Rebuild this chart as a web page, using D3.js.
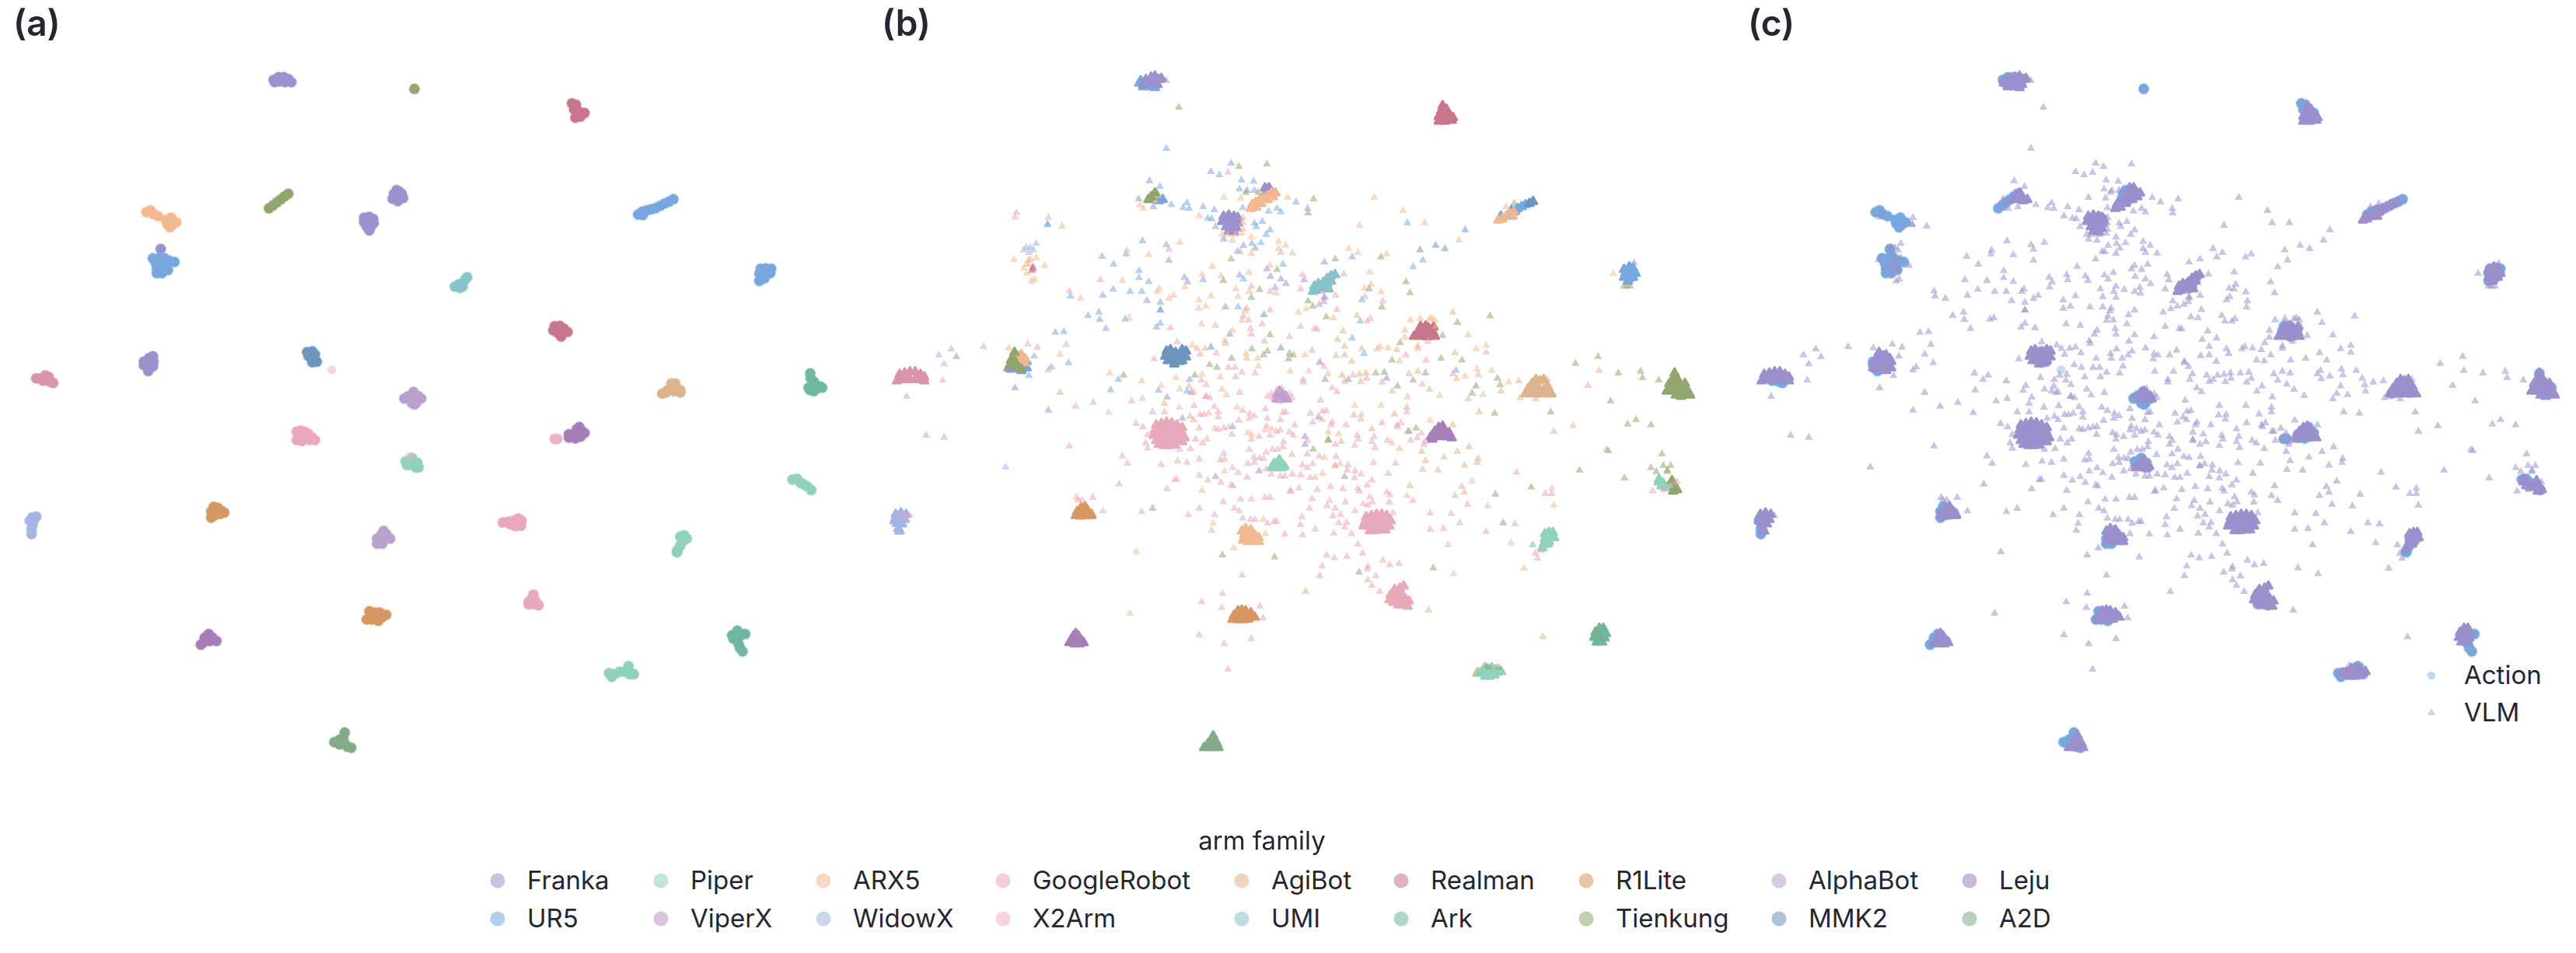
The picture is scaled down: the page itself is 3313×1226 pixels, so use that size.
<!DOCTYPE html>
<html>
<head>
<meta charset="utf-8">
<script src="https://cdn.jsdelivr.net/npm/d3@7"></script>
<style>
  html, body { margin: 0; background: #fff; }
  text { font-family: Inter, "Noto Sans", sans-serif; fill: #262631; }
</style>
</head>
<body>
<svg id="chart" width="3313" height="1226"></svg>
<script>
//Embedding coordinates (x 0-3300, y 0-3030)

//Action points, one array per arm family
var actionFranka = [[1056,308],[1075,298],[1095,298],[1112,305],[1124,317],[1100,317],[1078,314],[1060,317],[1535,755],[1520,748],[1550,748],[1515,767],[1535,776],[1555,764],[1530,734],[1540,739],[1405,840],[1425,837],[1440,845],[1405,858],[1425,858],[1442,861],[1415,874],[1430,877],[1425,889],[620,961],[555,1396],[575,1382],[590,1375],[592,1396],[575,1400],[555,1409],[575,1419],[590,1414],[572,1432]];
var actionTienkung = [[1599,343],[1038,804],[1053,793],[1068,781],[1083,770],[1098,758],[1112,748]];
var actionRealman = [[2207,399],[2222,404],[2215,422],[2235,431],[2255,436],[2240,450],[2220,454],[2228,441],[2140,1259],[2160,1258],[2175,1268],[2190,1281],[2170,1290],[2150,1284],[2135,1275],[2165,1299]];
var actionUR5 = [[2462,828],[2478,817],[2495,812],[2512,808],[2530,803],[2548,794],[2565,785],[2582,778],[2598,769],[2480,830],[590,997],[612,997],[635,997],[650,1005],[673,1011],[650,1017],[625,1014],[600,1014],[605,1037],[625,1037],[648,1042],[605,1054],[625,1054],[2935,1037],[2955,1036],[2975,1037],[2930,1056],[2950,1056],[2972,1054],[2935,1072],[2950,1074],[2930,1084]];
var actionARX5 = [[565,819],[580,812],[592,826],[610,834],[640,849],[660,840],[680,858],[665,868],[645,863],[655,877]];
var actionUMI = [[1755,1106],[1775,1111],[1770,1097],[1785,1093],[1795,1079],[1802,1070],[1785,1106]];
var actionMMK2 = [[1185,1359],[1205,1356],[1215,1368],[1190,1374],[1208,1382],[1222,1396],[1205,1398]];
var actionRose = [[140,1460],[158,1460],[175,1449],[188,1455],[178,1468],[195,1474],[205,1478],[165,1469]];
var actionAgiBot = [[2590,1480],[2605,1480],[2590,1497],[2610,1497],[2625,1506],[2600,1510],[2575,1506],[2555,1519],[2570,1515],[2625,1515]];
var actionArk = [[3126,1441],[3128,1460],[3140,1473],[3150,1487],[3165,1492],[3172,1496],[3150,1501],[3125,1505],[3120,1496],[3140,1510],[2825,2452],[2845,2434],[2860,2447],[2875,2447],[2850,2461],[2830,2465],[2845,2474],[2850,2487],[2855,2501],[2865,2514]];
var actionAlphaBot = [[1595,1513],[1575,1529],[1560,1538],[1580,1542],[1600,1533],[1625,1538],[1605,1556],[1590,1556],[1600,1561],[1615,1529],[1480,2049],[1490,2061],[1470,2066],[1455,2079],[1475,2084],[1495,2075],[1505,2079],[1455,2098],[1475,2098]];
var actionGoogleRobot = [[1145,1666],[1160,1662],[1175,1666],[1190,1675],[1205,1689],[1215,1698],[1195,1698],[1175,1689],[1155,1685],[1145,1698],[1165,1702],[1940,2017],[1960,2014],[1980,2010],[2000,2001],[2012,2010],[2010,2029],[1990,2031],[1970,2024],[2058,2295],[2052,2309],[2065,2318],[2040,2323],[2060,2332],[2078,2336],[2040,2332]];
var actionLeju = [[2195,1689],[2215,1676],[2225,1657],[2235,1648],[2245,1663],[2255,1671],[2240,1685],[2220,1692],[2195,1676],[805,2447],[790,2461],[820,2461],[835,2474],[810,2474],[785,2479],[775,2488]];
var actionPiper = [[1565,1781],[1585,1772],[1590,1768],[1610,1786],[1590,1795],[1570,1795],[1605,1804],[1615,1804],[3058,1851],[3075,1848],[3085,1860],[3100,1869],[3115,1878],[3130,1891],[3090,1864],[2640,2066],[2625,2071],[2650,2079],[2635,2088],[2625,2105],[2615,2122],[2612,2131],[2350,2598],[2370,2602],[2390,2593],[2410,2593],[2425,2584],[2425,2571],[2445,2602],[2430,2602],[2360,2612]];
var actionX2Arm = [[2140,1694],[2150,1694],[2612,2129]];
var actionWidowX = [[125,1997],[140,1994],[115,2010],[130,2010],[125,2029],[122,2042],[122,2061]];
var actionR1Lite = [[825,1956],[840,1960],[855,1972],[865,1978],[815,1974],[835,1978],[815,1998],[830,1988],[850,1983],[1425,2359],[1445,2364],[1465,2364],[1490,2373],[1475,2382],[1455,2387],[1435,2391],[1415,2391],[1460,2396]];
var actionA2D = [[1330,2827],[1325,2845],[1310,2855],[1290,2864],[1310,2873],[1330,2869],[1340,2882],[1355,2886]];
//single points that never pile up
var actionLoneX2Arm = [[1280,1427],[1580,1762]];

//VLM clusters, dense
var coreUR5 = [[1060,321],[1075,335],[1100,335],[1065,312],[1120,338],[2550,790],[2535,798],[2520,805],[2510,815],[2495,812],[2455,835],[1135,775],[1150,770],[1130,760],[2930,1040],[2950,1030],[2965,1035],[2935,1055],[2955,1055],[2975,1055],[2930,1070],[2950,1075],[2965,1070],[2945,1085],[600,1375],[625,1395],[625,1420],[605,1430],[565,1425]];
var coreFranka = [[1085,307],[1105,298],[1120,294],[1135,307],[1100,317],[1120,317],[1075,326],[1130,326],[1145,303],[1545,725],[1560,725],[1570,740],[1550,740],[1385,835],[1405,830],[1425,835],[1440,840],[1380,855],[1400,855],[1420,855],[1440,860],[1395,875],[1415,875],[1435,880],[1405,892],[1425,895],[565,1405],[555,1420],[570,1390]];
var coreRealman = [[2230,408],[2225,427],[2245,422],[2215,450],[2235,445],[2255,441],[2270,454],[2215,468],[2240,468],[2265,464],[2145,1260],[2165,1258],[2175,1265],[2195,1262],[2135,1280],[2155,1280],[2175,1282],[2195,1285],[2130,1295],[2150,1298],[2170,1300],[2200,1298],[2120,1298]];
var coreMMK2 = [[2579,778],[2565,785],[1165,1355],[1180,1350],[1200,1360],[1225,1350],[1240,1355],[1160,1375],[1180,1375],[1200,1375],[1220,1375],[1240,1378],[1170,1392],[1195,1392],[1215,1395],[1195,1405],[1225,1392]];
var coreARX5 = [[2505,820],[2490,825],[2475,835],[2460,845],[2445,850],[2500,835],[1570,745],[1555,755],[1540,765],[1525,770],[1510,780],[1495,790],[1490,805],[1530,785],[1510,800],[1555,770],[1575,760],[1585,745],[1110,770],[1125,750],[595,1375],[610,1380],[600,1395],[615,1400],[620,1385],[605,1370],[1475,2050],[1490,2045],[1465,2065],[1485,2070],[1505,2065],[1520,2075],[1460,2085],[1480,2090],[1500,2090],[1520,2090],[1470,2040],[1455,2050],[2364,2597]];
var coreUMI = [[1800,1065],[1815,1060],[1785,1075],[1800,1085],[1770,1090],[1785,1095],[1750,1095],[1735,1105],[1755,1110],[1775,1110],[1740,1120],[1790,1115],[1730,1125]];
var coreRose = [[135,1445],[155,1440],[175,1435],[195,1435],[215,1445],[230,1455],[135,1465],[155,1465],[175,1465],[195,1465],[215,1465],[230,1470],[125,1470]];
var coreAgiBot = [[2575,1480],[2590,1465],[2605,1470],[2620,1465],[2635,1490],[2560,1500],[2580,1500],[2600,1495],[2620,1505],[2640,1510],[2550,1520],[2570,1520],[2590,1520],[2610,1520],[2630,1520],[2650,1520]];
var coreAlphaBot = [[1590,1525],[1610,1520],[1625,1530],[1590,1540],[1610,1540],[1630,1540],[1600,1510]];
var coreGoogleRobot = [[1125,1640],[1145,1635],[1165,1630],[1185,1632],[1205,1640],[1225,1650],[1120,1660],[1140,1658],[1160,1655],[1180,1655],[1200,1660],[1225,1670],[1115,1680],[1135,1680],[1155,1680],[1175,1680],[1195,1680],[1215,1685],[1235,1690],[1125,1700],[1145,1700],[1165,1700],[1185,1700],[1205,1700],[1225,1705],[1135,1715],[1155,1720],[1175,1720],[1195,1718],[1935,1995],[1955,1990],[1975,1985],[1995,1985],[2015,1990],[1930,2015],[1950,2010],[1970,2010],[1990,2010],[2010,2012],[2030,2010],[1925,2030],[1945,2030],[1965,2030],[1985,2030],[2005,2030],[2025,2030],[1950,2048],[1970,2048],[1990,2045],[2010,2045],[2045,2275],[2065,2270],[2080,2262],[2030,2295],[2050,2295],[2070,2290],[2025,2315],[2045,2315],[2065,2315],[2085,2310],[2100,2320],[2060,2335],[2080,2335],[2095,2340],[2040,2325]];
var coreLeju = [[2215,1650],[2230,1645],[2200,1665],[2220,1665],[2240,1665],[2255,1670],[2185,1685],[2205,1685],[2225,1685],[2245,1685],[2265,1690],[2190,1695],[815,2445],[805,2455],[825,2455],[800,2470],[815,2470],[835,2470],[790,2480],[810,2485],[830,2485],[845,2480]];
var corePiper = [[1600,1775],[1590,1790],[1610,1790],[1570,1805],[1590,1805],[1610,1805],[1620,1800],[1580,1790],[3065,1860],[3080,1865],[3065,1850],[3090,1880],[3105,1880],[3075,1875],[2640,2055],[2655,2055],[2625,2060],[2640,2070],[2660,2075],[2625,2080],[2640,2090],[2620,2100],[2635,2100],[2615,2115],[2400,2580],[2420,2578],[2435,2585],[2380,2595],[2400,2598],[2420,2598],[2440,2595],[2395,2610],[2410,2610],[2430,2605],[2455,2592],[2370,2598]];
var coreWidowX = [[120,1985],[140,1980],[160,1985],[120,2000],[140,2005],[155,2005],[125,2020],[145,2022],[130,2040],[135,2050],[115,2010]];
var coreR1Lite = [[835,1960],[850,1955],[820,1975],[840,1975],[860,1970],[875,1985],[815,1990],[835,1992],[855,1990],[875,1990],[1440,2358],[1455,2355],[1470,2358],[1490,2365],[1425,2375],[1445,2375],[1465,2375],[1485,2378],[1505,2382],[1420,2390],[1440,2392],[1460,2392],[1480,2390]];
var coreArk = [[2835,2425],[2850,2425],[2820,2440],[2840,2445],[2860,2445],[2815,2460],[2835,2465],[2855,2462],[2825,2478],[2845,2478]];
var coreA2D = [[1345,2840],[1340,2855],[1325,2870],[1345,2870],[1360,2870],[1310,2885],[1330,2885],[1350,2885],[1365,2885]];
var coreTienkung = [[3125,1440],[3120,1460],[3140,1470],[3105,1480],[3125,1485],[3145,1490],[3165,1480],[3105,1505],[3125,1510],[3145,1510],[3165,1505],[3180,1515],[3095,1510],[3130,1525],[3150,1530],[3185,1525],[3170,1520],[1095,770],[1105,760],[1120,745],[578,1360],[565,1390],[580,1395],[595,1420],[580,1410],[560,1410],[605,1425],[3115,1855],[3125,1880],[3135,1890],[3120,1895]];

//VLM scatter, loose triangles
var looseUR5 = [[1164,573],[1414,630],[1336,663],[1369,675],[1454,695],[1501,700],[1446,730],[1476,735],[1504,735],[1183,790],[1244,783],[1229,802],[1252,805],[1306,798],[1349,810],[1459,802],[1324,842],[1339,845],[1354,875],[1559,815],[1591,805],[1606,818],[1664,780],[1504,862],[1511,875],[1534,855],[1564,888],[1549,905],[1529,937],[1494,940],[1386,923],[1439,970],[1072,930],[1164,945],[1174,1005],[916,990],[961,1020],[1009,980],[1059,1045],[1059,1072],[1096,1087],[1234,1070],[1306,1080],[1447,1062],[1462,1078],[1614,1020],[1584,1110],[959,1117],[1024,1125],[1069,1125],[919,1140],[794,1143],[1141,1167],[1141,1197],[1141,1197],[1441,1185],[904,1205],[862,1218],[907,1233],[1006,1232],[931,1268],[1141,1248],[1126,1263],[736,1283],[769,1280],[706,865],[706,868],[654,1375],[634,1450],[787,1400],[721,1417],[979,1465],[949,1505],[1254,1465],[1134,1507],[1244,1510],[1709,805],[1881,992],[1774,1012],[2094,860],[2154,1004],[2116,1030],[1919,1157],[1912,1240],[1881,1305],[1927,1365],[2281,1430],[2969,1015],[2578,2103],[1139,720]];
var looseMMK2 = [[2317,887],[2143,965],[2203,947],[2239,960],[1541,1215],[1336,1340],[1606,1343]];
var looseWidowX = [[286,1370],[334,1347],[162,1530],[237,1680],[307,1688],[544,1803],[624,955],[639,955],[662,940],[651,965],[634,975],[614,965],[2489,835]];
var looseFranka = [[1099,698],[1057,768],[1114,798],[1462,948],[1507,958],[1552,1038],[1566,1067],[1606,1077],[1626,1095],[1246,1088],[1392,1185],[1089,1160],[1409,1290],[354,1377],[580,1497],[709,1583],[1167,1533],[1261,1515],[1226,1615],[1419,1647],[1111,1962],[1354,1840],[1522,1818],[1699,1685],[1699,1715],[1751,1610],[1852,1840],[1696,1080],[2014,1460],[1777,1465],[1163,311]];
var looseViperX = [[1756,1400],[1761,1125],[1774,1150],[1772,1165],[1754,1175],[1774,1145]];
var looseARX5 = [[762,873],[1386,762],[1452,765],[1632,762],[1291,833],[1419,928],[1492,915],[1597,932],[1624,947],[1597,960],[1651,977],[1492,978],[1216,935],[1096,983],[1012,965],[1342,1028],[1564,1025],[1482,1052],[1302,1060],[1374,1065],[994,1083],[1236,1108],[1137,1115],[1129,1125],[1192,1140],[1174,1152],[1336,1142],[1289,1158],[1432,1115],[1441,1145],[1484,1125],[1587,1132],[1316,1182],[1289,1190],[834,1152],[1021,1227],[1300,1250],[1354,1256],[1456,1237],[1469,1200],[1419,1275],[1389,1315],[1264,1332],[1314,1345],[1471,1365],[1516,1383],[1519,1413],[1474,1383],[1642,1433],[1302,1445],[1372,1455],[1201,1457],[946,1440],[1069,1470],[1144,1488],[1216,1502],[1269,1513],[1379,1502],[1396,1525],[754,1367],[1072,1538],[941,1592],[556,1343],[1214,1572],[1437,1572],[1327,1595],[1351,1655],[1404,1648],[1479,1670],[1494,1678],[1546,1660],[1571,1655],[1321,1695],[1389,1818],[1302,1893],[1196,1852],[1539,2005],[1346,2020],[1546,2060],[1048,2130],[1024,2367],[817,1920],[1424,2115],[1399,905],[1454,900],[1459,860],[1379,905],[1430,905],[1460,885],[1460,840],[1062,792],[1076,805],[2474,798],[634,1005],[576,1002],[662,995],[694,1025],[624,1020],[614,1035],[626,1055],[644,1085],[656,1078],[634,1020],[639,1000],[1966,762],[2077,813],[1909,870],[2161,860],[1867,960],[1903,975],[2014,980],[2293,927],[1948,1050],[1954,1097],[1929,1113],[1993,1127],[1704,1192],[1674,1205],[1809,1227],[2329,1293],[2359,1346],[2398,1333],[1989,1338],[2019,1343],[1699,1370],[2064,1393],[1714,1433],[1787,1443],[2362,1425],[2419,1430],[2317,1452],[2218,1527],[2095,1532],[2386,1523],[2485,1475],[1993,1565],[1891,1565],[2734,1643],[2889,1055],[2182,1622],[1789,1668],[1917,1600],[1774,1766],[1767,1827],[1739,1843],[1834,1790],[1814,1798],[2064,1732],[2034,1710],[1829,1675],[2344,1857],[2092,1913],[1794,1932],[2404,1953],[2659,1950],[2651,1885],[2494,2095],[2251,2103],[2272,2215],[2544,2193],[2106,1235],[2144,1230],[2179,1230],[2189,1228],[2199,1235],[2084,1275],[2084,1302],[2204,1260],[2134,1335]];
var looseRealman = [[649,1035],[649,1040],[650,1030],[645,1045]];
var looseAgiBot = [[586,820],[754,1515],[1157,1557],[1141,1643],[1231,1653],[1084,1710],[1255,1607],[1207,1780],[1372,1775],[1604,1660],[1649,1755],[2269,1205],[1900,1218],[1846,1278],[1825,1310],[1852,1337],[1918,1346],[1978,1346],[2053,1350],[1819,1373],[1879,1395],[2278,1362],[2134,1345],[2134,1433],[1842,1448],[1909,1445],[1934,1440],[1914,1473],[2179,1503],[2036,1510],[2284,1462],[2455,1510],[2329,1540],[2834,1430],[2092,1572],[2044,1598],[2371,1590],[1957,1655],[1839,1705],[2054,1640],[2269,1640],[1914,1618],[1764,1620],[1963,1786],[2149,1743],[2164,1778],[2152,1812],[2212,1815],[2236,1765],[2287,1743],[2332,1725],[2314,1796],[2367,1770],[2364,1785],[2104,1875],[2314,1900],[2277,1913],[1999,2162],[1957,2260],[1702,2283],[2176,2355],[2617,2458],[1924,2020],[2024,2300],[2059,2285],[2084,2325],[2524,1470],[2634,1465],[2529,1535],[2589,1540]];
var looseGoogleRobot = [[1402,665],[709,840],[580,838],[1174,962],[1606,975],[1449,972],[909,1080],[790,1123],[1492,1105],[1564,1125],[1474,1190],[1564,1197],[1461,1220],[1482,1235],[1534,1250],[1489,1268],[1492,1290],[1180,1265],[1542,1317],[1639,1300],[1392,1325],[1206,1320],[1357,1362],[1294,1368],[1282,1345],[1117,1385],[1404,1418],[1429,1418],[1456,1437],[1432,1455],[1507,1440],[1299,1468],[1318,1485],[1252,1490],[1317,1530],[1332,1535],[1447,1515],[778,1330],[629,1328],[667,1340],[459,1338],[307,1405],[301,1468],[709,1428],[814,1568],[882,1553],[1030,1548],[1111,1590],[1157,1590],[1271,1566],[1318,1530],[1349,1570],[1364,1590],[1364,1610],[1294,1600],[1309,1600],[1269,1620],[1459,1585],[1486,1595],[1504,1605],[1484,1615],[1546,1578],[1614,1592],[1624,1590],[1604,1620],[1554,1615],[1444,1623],[1291,1652],[1364,1658],[1386,1652],[1417,1677],[1551,1645],[1564,1680],[1522,1685],[1492,1695],[1589,1665],[1639,1668],[1659,1640],[1654,1680],[1617,1705],[1614,1725],[1594,1735],[1574,1735],[1549,1745],[1484,1735],[1502,1765],[1524,1768],[1539,1770],[1479,1790],[1504,1785],[1549,1810],[1569,1830],[1604,1838],[1621,1838],[1651,1830],[1441,1825],[1419,1805],[1476,1842],[1386,1750],[1389,1772],[1291,1772],[1277,1695],[1304,1710],[1257,1732],[1216,1735],[1243,1785],[1144,1793],[1291,1835],[1324,1853],[1374,1862],[1414,1872],[1422,1876],[1204,1850],[1167,1887],[982,1868],[994,1760],[1014,1788],[790,1722],[1047,1635],[1074,1648],[1092,1678],[1092,1730],[1642,1897],[1644,1893],[1544,1920],[1564,1920],[1450,1927],[1492,1927],[1384,1937],[1291,1962],[1249,1987],[1351,1987],[1426,1962],[1446,1972],[1459,2000],[1489,2005],[1506,2005],[1555,2020],[1579,2013],[1589,2013],[1339,2047],[1069,1975],[919,1972],[880,1920],[839,1930],[824,1930],[144,1990],[174,1990],[1621,2062],[1456,2220],[1381,2290],[1300,2323],[1378,2345],[1525,2340],[1537,2385],[1291,2450],[1387,2485],[1492,2465],[1402,2583],[1689,1060],[1849,1058],[1682,1115],[1817,1140],[1822,1195],[1931,1145],[1999,1162],[1939,1240],[1951,1230],[1682,1260],[1736,1268],[1746,1270],[1726,1352],[1852,1370],[1756,1395],[1772,1415],[2089,1370],[2166,1390],[2398,1360],[1884,1448],[1936,1460],[1852,1472],[1996,1475],[2101,1443],[2269,1443],[2368,1447],[1692,1465],[1692,1475],[1804,1497],[1822,1512],[2151,1483],[2174,1318],[2791,1488],[2659,1665],[1759,1545],[1720,1595],[1766,1588],[1781,1585],[1729,1630],[1804,1630],[1799,1640],[1858,1640],[1888,1602],[1996,1632],[2069,1632],[2056,1648],[2092,1590],[1900,1680],[1904,1695],[1966,1685],[1957,1705],[2017,1700],[1891,1720],[1816,1715],[1969,1728],[1709,1700],[1819,1762],[1708,1752],[1754,1762],[1689,1795],[1708,1805],[1729,1790],[1682,1833],[1719,1843],[1817,1798],[1864,1795],[1862,1815],[1892,1818],[1891,1845],[1916,1830],[1957,1853],[1939,1872],[2020,1827],[2049,1788],[1798,1878],[1746,1890],[1846,1887],[1902,1885],[1909,1895],[1676,1883],[1726,1925],[1717,1962],[1784,1952],[1816,1962],[1855,1938],[1807,1992],[1836,1986],[1687,1995],[1682,2025],[1739,2043],[1810,2058],[1690,2065],[1829,2018],[1859,2017],[1852,2035],[1879,2060],[1892,1972],[1949,1918],[1959,1937],[1924,1945],[1942,1950],[2014,1900],[2026,1910],[2024,1938],[2039,1980],[2116,1932],[1903,2100],[1921,2135],[1782,2143],[1813,2153],[1861,2148],[1765,2185],[1756,2222],[1942,2187],[1939,2197],[1972,2223],[1942,2238],[2026,2180],[2062,2175],[1987,2283],[2182,1980],[2263,1982],[2182,2043],[2233,2040],[2296,2018],[2326,1947],[2304,1878],[2398,2052],[2509,2022],[2515,1823],[2626,1905],[2651,1905],[2862,1735],[2107,1700],[2148,1672],[2132,1690],[2161,1705],[2159,1715],[2094,1665],[2588,2135],[2596,2155],[2611,2125],[3040,1895],[3084,1890],[3109,1875],[3134,1860],[1555,1530],[1570,1520],[1575,1535],[1590,1505],[1610,1500],[1640,1520],[1650,1535],[1600,1550]];
var looseTienkung = [[1444,643],[1552,633],[1471,743],[1519,743],[1414,1000],[1384,1083],[1591,1040],[1524,1118],[1492,1148],[1564,1292],[1494,1347],[1554,1355],[1539,1370],[1416,1383],[1639,1365],[1654,1370],[1636,1385],[1331,1408],[1359,1418],[1274,1448],[999,1448],[1732,768],[1711,822],[1816,1000],[1992,992],[2089,1088],[2104,1130],[1947,1115],[1996,1185],[1711,1162],[1729,1182],[1781,1223],[2287,1245],[2413,1220],[2230,1295],[2066,1323],[2035,1390],[2224,1383],[2305,1390],[1972,1440],[2005,1437],[2164,1440],[2116,1468],[1867,1465],[2056,1490],[2359,1490],[2344,1518],[2442,1460],[2452,1485],[2830,1376],[2743,1403],[2908,1440],[2994,1433],[3001,1458],[3064,1467],[2878,1548],[2431,1595],[2647,1590],[2944,1637],[2976,1620],[3034,1640],[2929,1105],[2954,1105],[2942,1105],[2101,1665],[2128,1653],[1731,1734],[1789,1697],[1789,1700],[2869,1740],[3076,1752],[2758,1815],[2932,1845],[3034,1805],[3082,1797],[3110,1797],[3097,1815],[3097,1820],[3054,1820],[2572,1880],[2434,1908],[2464,2018],[1908,2208],[2194,2192],[3114,1900],[1381,2142],[1582,2150],[1212,414],[2392,2568],[2409,2575],[2446,2575],[2824,2435],[2839,2465],[2506,785]];

//Legend order is column by column
var families = ["Franka","UR5","Piper","ViperX","ARX5","WidowX","GoogleRobot","X2Arm","AgiBot","UMI","Realman","Ark","R1Lite","Tienkung","AlphaBot","MMK2","Leju","A2D"];
var familyColors = ["#9b8fcc","#74a6de","#8dd2b8","#b993c7","#f2b890","#a3b4e5","#e8a6bb","#eeb0c8","#dcb48c","#86c2c8","#c77489","#6cb6a0","#d6955f","#8fa56c","#b89fca","#6a93bd","#a47cb6","#82a986"];
var sourceNames = ["Action","VLM"];
var panelNames = ["(a)","(b)","(c)"];

var color = d3.scaleOrdinal().domain(families).range(familyColors);
var roseColor = "#d892ac";

//Draw order matters, later layers sit on top
var actionLayers = [
  [color("Franka"), actionFranka], [color("UR5"), actionUR5], [color("ARX5"), actionARX5],
  [color("UMI"), actionUMI], [color("MMK2"), actionMMK2], [roseColor, actionRose],
  [color("AgiBot"), actionAgiBot], [color("Ark"), actionArk], [color("AlphaBot"), actionAlphaBot],
  [color("GoogleRobot"), actionGoogleRobot], [color("X2Arm"), actionX2Arm], [color("Leju"), actionLeju],
  [color("Piper"), actionPiper], [color("WidowX"), actionWidowX], [color("R1Lite"), actionR1Lite],
  [color("A2D"), actionA2D], [color("Realman"), actionRealman], [color("Tienkung"), actionTienkung]
];
var coreLayers = [
  [color("UR5"), coreUR5], [color("WidowX"), coreWidowX], [color("Franka"), coreFranka],
  [color("MMK2"), coreMMK2], [color("ARX5"), coreARX5], [color("UMI"), coreUMI],
  [roseColor, coreRose], [color("AgiBot"), coreAgiBot], [color("GoogleRobot"), coreGoogleRobot],
  [color("AlphaBot"), coreAlphaBot], [color("Leju"), coreLeju], [color("Piper"), corePiper],
  [color("R1Lite"), coreR1Lite], [color("Ark"), coreArk], [color("A2D"), coreA2D],
  [color("Realman"), coreRealman], [color("Tienkung"), coreTienkung]
];
var looseLayers = [
  [color("UR5"), looseUR5], [color("MMK2"), looseMMK2], [color("WidowX"), looseWidowX],
  [color("Franka"), looseFranka], [color("ViperX"), looseViperX], [color("ARX5"), looseARX5],
  [color("Realman"), looseRealman], [color("AgiBot"), looseAgiBot],
  [color("GoogleRobot"), looseGoogleRobot], [color("Tienkung"), looseTienkung]
];

var svg = d3.select("#chart");
svg.append("rect").attr("width", 3313).attr("height", 1226).attr("fill", "#fff");

var panelStep = 1112;
var x = d3.scaleLinear().domain([0, 3300]).range([0, 1100]);
var y = d3.scaleLinear().domain([0, 3030]).range([0, 1010]);

var triangle = d3.symbol().type(d3.symbolTriangle).size(46)();
var triangleWide = d3.symbol().type(d3.symbolTriangle).size(76)();

function translate(d) {
  return "translate(" + x(d[0]) + "," + y(d[1]) + ")";
}

function circles(parent, points, fill, r) {
  parent.selectAll("circle").data(points).join("circle")
    .attr("cx", function (d) { return x(d[0]); })
    .attr("cy", function (d) { return y(d[1]); })
    .attr("r", r)
    .attr("fill", fill);
}

function triangles(parent, points, fill, path) {
  parent.selectAll("path").data(points).join("path")
    .attr("d", path)
    .attr("transform", translate)
    .attr("fill", fill);
}

//A pile of points reads as one flat colour, with a soft fringe around it
function actionPile(panel, points, fill) {
  circles(panel.append("g").attr("opacity", 0.3), points, fill, 7.7);
  circles(panel.append("g").attr("opacity", 0.97), points, fill, 6.5);
}

function vlmPile(panel, points, fill) {
  triangles(panel.append("g").attr("opacity", 0.3), points, fill, triangleWide);
  var solid = panel.append("g").attr("opacity", 0.97);
  triangles(solid, points, fill, triangle);
  solid.selectAll("path").attr("stroke", fill).attr("stroke-width", 3).attr("stroke-linejoin", "round");
}

function loose(panel, points, fill) {
  triangles(panel.append("g").attr("fill-opacity", 0.52), points, fill, triangle);
}

var panels = panelNames.map(function (name, i) {
  return svg.append("g").attr("transform", "translate(" + panelStep * i + ",0)");
});

//(a) action only
actionLayers.forEach(function (l) { actionPile(panels[0], l[1], l[0]); });
actionLoneX2Arm.forEach(function (p) {
  circles(panels[0].append("g").attr("opacity", 0.5), [p], color("X2Arm"), 5.7);
});

//(b) VLM only
coreLayers.forEach(function (l) { vlmPile(panels[1], l[1], l[0]); });
looseLayers.forEach(function (l) { loose(panels[1], l[1], l[0]); });

//(c) both, coloured by source
var actionBlue = color("UR5");
var vlmPurple = color("Franka");
actionLayers.forEach(function (l) { actionPile(panels[2], l[1], actionBlue); });
circles(panels[2].append("g").attr("opacity", 0.4), actionLoneX2Arm.slice(0, 1), actionBlue, 5.7);
looseLayers.forEach(function (l) { loose(panels[2], l[1], vlmPurple); });
coreLayers.forEach(function (l) { vlmPile(panels[2], l[1], vlmPurple); });

//Panel letters
var letterX = [17, 1134, 2248];
svg.selectAll(".letter").data(panelNames).join("text")
  .attr("class", "letter")
  .attr("x", function (d, i) { return letterX[i]; })
  .attr("y", 46)
  .attr("font-size", 46)
  .attr("font-weight", 600)
  .text(function (d) { return d; });

//Arm family legend
var markerX = [640, 850, 1059, 1290, 1597, 1802, 2040, 2288, 2533];
var rowY = [1133, 1182];
svg.append("text")
  .attr("x", 1623).attr("y", 1093)
  .attr("text-anchor", "middle")
  .attr("font-size", 33)
  .text("arm family");

var items = svg.selectAll(".item").data(families).join("g")
  .attr("class", "item")
  .attr("transform", function (d, i) {
    return "translate(" + markerX[Math.floor(i / 2)] + "," + rowY[i % 2] + ")";
  });
items.append("circle").attr("r", 9.5).attr("fill", function (d) { return color(d); }).attr("opacity", 0.55);
items.append("text").attr("x", 38).attr("y", 11).attr("font-size", 33).text(function (d) { return d; });

//Source legend
var sourceY = [869, 917];
var sources = svg.selectAll(".source").data(sourceNames).join("g")
  .attr("class", "source")
  .attr("transform", function (d, i) { return "translate(3127," + sourceY[i] + ")"; });
sources.filter(function (d) { return d === "Action"; }).append("circle")
  .attr("r", 5.2).attr("fill", actionBlue).attr("opacity", 0.42);
sources.filter(function (d) { return d === "VLM"; }).append("path")
  .attr("d", triangle).attr("fill", vlmPurple).attr("opacity", 0.42);
sources.append("text").attr("x", 42).attr("y", 11).attr("font-size", 33).text(function (d) { return d; });
</script>
</body>
</html>
